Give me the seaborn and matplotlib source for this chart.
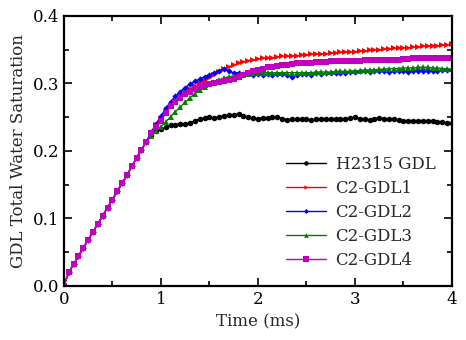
import numpy as np
import pandas as pd
import matplotlib
matplotlib.use("Agg")
import matplotlib.pyplot as plt
import seaborn as sns
from matplotlib.ticker import MultipleLocator

time_ms = [
    0.00, 0.05, 0.10, 0.15, 0.20, 0.25, 0.30, 0.35, 0.40, 0.45,
    0.50, 0.55, 0.60, 0.65, 0.70, 0.75, 0.80, 0.85, 0.90, 0.95,
    1.00, 1.05, 1.10, 1.15, 1.20, 1.25, 1.30, 1.35, 1.40, 1.45,
    1.50, 1.55, 1.60, 1.65, 1.70, 1.75, 1.80, 1.85, 1.90, 1.95,
    2.00, 2.05, 2.10, 2.15, 2.20, 2.25, 2.30, 2.35, 2.40, 2.45,
    2.50, 2.55, 2.60, 2.65, 2.70, 2.75, 2.80, 2.85, 2.90, 2.95,
    3.00, 3.05, 3.10, 3.15, 3.20, 3.25, 3.30, 3.35, 3.40, 3.45,
    3.50, 3.55, 3.60, 3.65, 3.70, 3.75, 3.80, 3.85, 3.90, 3.95,
    4.00,
]

h2315 = [
    0.000, 0.020, 0.032, 0.044, 0.056, 0.068, 0.080, 0.092, 0.104, 0.116,
    0.128, 0.140, 0.152, 0.164, 0.177, 0.190, 0.202, 0.214, 0.224, 0.229,
    0.232, 0.235, 0.238, 0.239, 0.240, 0.240, 0.242, 0.245, 0.247, 0.249,
    0.250, 0.249, 0.251, 0.252, 0.253, 0.253, 0.255, 0.252, 0.250, 0.249,
    0.248, 0.249, 0.249, 0.250, 0.250, 0.248, 0.246, 0.247, 0.247, 0.247,
    0.247, 0.246, 0.247, 0.248, 0.248, 0.247, 0.248, 0.247, 0.248, 0.249,
    0.250, 0.248, 0.247, 0.246, 0.248, 0.249, 0.248, 0.247, 0.247, 0.246,
    0.245, 0.245, 0.244, 0.244, 0.244, 0.244, 0.244, 0.243, 0.243, 0.242,
    0.241,
]

c2_gdl1 = [
    0.000, 0.020, 0.032, 0.044, 0.056, 0.068, 0.080, 0.092, 0.104, 0.116,
    0.128, 0.140, 0.152, 0.164, 0.177, 0.190, 0.202, 0.214, 0.226, 0.238,
    0.248, 0.257, 0.266, 0.274, 0.281, 0.287, 0.292, 0.296, 0.300, 0.304,
    0.308, 0.312, 0.317, 0.321, 0.325, 0.327, 0.330, 0.332, 0.334, 0.335,
    0.336, 0.337, 0.338, 0.338, 0.339, 0.340, 0.340, 0.341, 0.341, 0.342,
    0.342, 0.343, 0.343, 0.344, 0.344, 0.345, 0.345, 0.346, 0.346, 0.347,
    0.347, 0.348, 0.348, 0.349, 0.350, 0.350, 0.351, 0.351, 0.352, 0.352,
    0.353, 0.353, 0.354, 0.354, 0.355, 0.355, 0.356, 0.356, 0.357, 0.357,
    0.358,
]

c2_gdl2 = [
    0.000, 0.020, 0.032, 0.044, 0.056, 0.068, 0.080, 0.092, 0.104, 0.116,
    0.128, 0.140, 0.152, 0.164, 0.177, 0.190, 0.202, 0.214, 0.228, 0.240,
    0.252, 0.263, 0.273, 0.281, 0.288, 0.294, 0.299, 0.303, 0.307, 0.310,
    0.313, 0.316, 0.319, 0.321, 0.319, 0.315, 0.316, 0.314, 0.315, 0.313,
    0.314, 0.313, 0.314, 0.313, 0.314, 0.314, 0.313, 0.310, 0.313, 0.314,
    0.314, 0.313, 0.315, 0.314, 0.315, 0.315, 0.316, 0.315, 0.316, 0.317,
    0.317, 0.318, 0.318, 0.317, 0.319, 0.318, 0.318, 0.317, 0.318, 0.318,
    0.318, 0.317, 0.318, 0.319, 0.318, 0.318, 0.319, 0.319, 0.320, 0.320,
    0.320,
]

c2_gdl3 = [
    0.000, 0.020, 0.032, 0.044, 0.056, 0.068, 0.080, 0.092, 0.104, 0.116,
    0.128, 0.140, 0.152, 0.164, 0.177, 0.190, 0.202, 0.214, 0.222, 0.230,
    0.236, 0.243, 0.251, 0.258, 0.265, 0.272, 0.279, 0.285, 0.290, 0.295,
    0.299, 0.302, 0.305, 0.308, 0.310, 0.311, 0.312, 0.313, 0.314, 0.315,
    0.315, 0.316, 0.316, 0.316, 0.316, 0.316, 0.316, 0.316, 0.316, 0.316,
    0.316, 0.316, 0.317, 0.317, 0.317, 0.317, 0.318, 0.318, 0.318, 0.318,
    0.319, 0.319, 0.320, 0.320, 0.320, 0.321, 0.321, 0.322, 0.322, 0.322,
    0.323, 0.323, 0.323, 0.324, 0.324, 0.324, 0.323, 0.323, 0.322, 0.322,
    0.321,
]

c2_gdl4 = [
    0.000, 0.020, 0.032, 0.044, 0.056, 0.068, 0.080, 0.092, 0.104, 0.116,
    0.128, 0.140, 0.152, 0.164, 0.177, 0.190, 0.202, 0.214, 0.226, 0.236,
    0.245, 0.256, 0.266, 0.273, 0.279, 0.284, 0.288, 0.292, 0.295, 0.297,
    0.299, 0.300, 0.302, 0.304, 0.305, 0.307, 0.309, 0.312, 0.315, 0.318,
    0.320, 0.322, 0.324, 0.325, 0.326, 0.327, 0.328, 0.329, 0.330, 0.330,
    0.331, 0.331, 0.332, 0.332, 0.332, 0.333, 0.333, 0.333, 0.334, 0.334,
    0.334, 0.334, 0.335, 0.335, 0.335, 0.335, 0.335, 0.335, 0.335, 0.335,
    0.336, 0.336, 0.337, 0.337, 0.337, 0.337, 0.337, 0.337, 0.337, 0.337,
    0.337,
]

series_names = ["H2315 GDL", "C2-GDL1", "C2-GDL2", "C2-GDL3", "C2-GDL4"]
series_values = [h2315, c2_gdl1, c2_gdl2, c2_gdl3, c2_gdl4]
colors = ["#000000", "#ff0000", "#0000ff", "#008000", "#bf00bf"]
markers = ["o", ">", "D", "^", "s"]
msizes = [4.0, 3.8, 3.2, 4.2, 5.0]

sns.set_theme(style="ticks")
plt.rcParams["font.family"] = ["DejaVu Serif"]

fig = plt.figure(figsize=(4.66, 3.40), dpi=100)
ax = fig.add_axes([0.137, 0.159, 0.833, 0.794])

for name, vals, c, m, ms in zip(series_names, series_values, colors, markers, msizes):
    df = pd.DataFrame({"t": time_ms, "s": vals})
    sns.lineplot(data=df, x="t", y="s", ax=ax, color=c, marker=m, markersize=ms,
                 markeredgewidth=0, linewidth=1.0, label=name)

ax.set_xlim(0, 4)
ax.set_ylim(0, 0.4)
ax.xaxis.set_major_locator(MultipleLocator(1))
ax.xaxis.set_minor_locator(MultipleLocator(0.5))
ax.yaxis.set_major_locator(MultipleLocator(0.1))
ax.yaxis.set_minor_locator(MultipleLocator(0.05))
ax.tick_params(which="both", direction="in", top=True, right=True, labelsize=12,
               width=1.2, colors="black")
ax.tick_params(which="major", length=6)
ax.tick_params(which="minor", length=3.5)
for sp in ax.spines.values():
    sp.set_linewidth(1.6)
    sp.set_color("black")
ax.set_xlabel("Time (ms)", fontsize=12)
ax.set_ylabel("GDL Total Water Saturation", fontsize=12)
leg = ax.legend(loc="lower right", frameon=False, fontsize=12, handlelength=2.4,
                labelspacing=0.42, borderaxespad=0.6, handletextpad=0.55,
                markerscale=0.8)

fig.savefig("out.png", dpi=100)
